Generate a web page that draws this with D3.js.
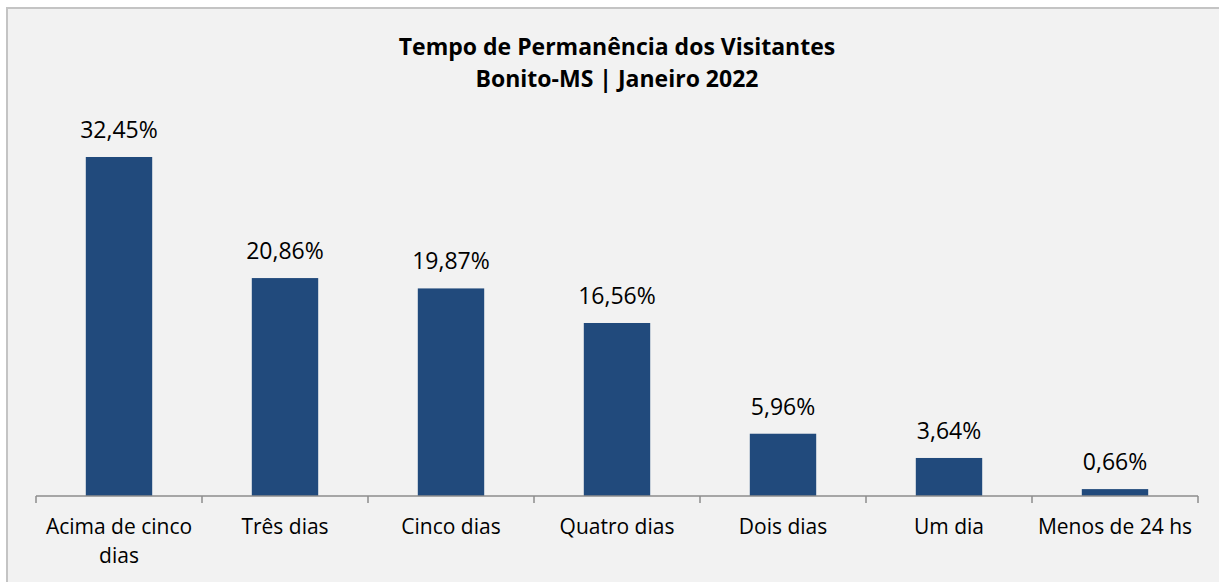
<!DOCTYPE html>
<html>
<head>
<meta charset="utf-8">
<script src="https://cdn.jsdelivr.net/npm/d3@7"></script>
<style>
  html, body { margin: 0; padding: 0; background: #fff; }
  svg { display: block; }
  text { font-family: "Open Sans", sans-serif; fill: #000; }
</style>
</head>
<body>
<div id="graph"></div>
<script>
// data
const categories = ["Acima de cinco dias", "Três dias", "Cinco dias", "Quatro dias", "Dois dias", "Um dia", "Menos de 24 hs"];
const values = [32.45, 20.86, 19.87, 16.56, 5.96, 3.64, 0.66];
const titleLines = ["Tempo de Permanência dos Visitantes", "Bonito-MS | Janeiro 2022"];

const W = 1219, H = 582;
const plot = { left: 36, right: 1198, bottom: 496 };

const svg = d3.select("#graph").append("svg")
  .attr("width", W)
  .attr("height", H);

// chart area background + border (cropped on right / bottom)
svg.append("rect")
  .attr("x", 7).attr("y", 8)
  .attr("width", W + 20).attr("height", H + 20)
  .attr("fill", "#f2f2f2")
  .attr("stroke", "#c4c4c4")
  .attr("stroke-width", 2);

const x = d3.scaleBand()
  .domain(categories)
  .range([plot.left, plot.right])
  .paddingInner(0.6)
  .paddingOuter(0.3);

const y = d3.scaleLinear()
  .domain([0, 35])
  .range([plot.bottom, plot.bottom - 35 * 10.447]);

// title
svg.append("g").selectAll("text")
  .data(titleLines)
  .join("text")
  .attr("x", 617)
  .attr("y", (d, i) => 55 + i * 32)
  .attr("text-anchor", "middle")
  .attr("font-weight", "bold")
  .attr("font-size", 23)
  .text(d => d);

// bars
svg.append("g").selectAll("rect")
  .data(values)
  .join("rect")
  .attr("x", (d, i) => x(categories[i]))
  .attr("y", d => y(d))
  .attr("width", x.bandwidth())
  .attr("height", d => y(0) - y(d))
  .attr("fill", "#214a7c");

// value labels
svg.append("g").selectAll("text")
  .data(values)
  .join("text")
  .attr("x", (d, i) => x(categories[i]) + x.bandwidth() / 2)
  .attr("y", d => y(d) - 19)
  .attr("text-anchor", "middle")
  .attr("font-size", 23)
  .text(d => d.toFixed(2).replace(".", ",") + "%");

// x axis: line plus ticks between categories
const axis = svg.append("g").attr("stroke", "#8c8c8c").attr("stroke-width", 1.5);
axis.append("line")
  .attr("x1", plot.left).attr("x2", plot.right)
  .attr("y1", plot.bottom).attr("y2", plot.bottom);
const step = x.step();
const tickXs = d3.range(categories.length + 1).map(i => plot.left + i * step);
axis.selectAll("line.tick")
  .data(tickXs)
  .join("line")
  .attr("class", "tick")
  .attr("x1", d => d).attr("x2", d => d)
  .attr("y1", plot.bottom).attr("y2", plot.bottom + 7);

// category labels (wrap the long one)
const wrapped = { "Acima de cinco dias": ["Acima de cinco", "dias"] };
const labels = svg.append("g").selectAll("text")
  .data(categories)
  .join("text")
  .attr("x", d => x(d) + x.bandwidth() / 2)
  .attr("y", 534)
  .attr("text-anchor", "middle")
  .attr("font-size", 21);
labels.each(function(d) {
  const lines = wrapped[d] || [d];
  const t = d3.select(this);
  lines.forEach((ln, i) => {
    t.append("tspan")
      .attr("x", x(d) + x.bandwidth() / 2)
      .attr("dy", i === 0 ? 0 : 29)
      .text(ln);
  });
});
</script>
</body>
</html>
